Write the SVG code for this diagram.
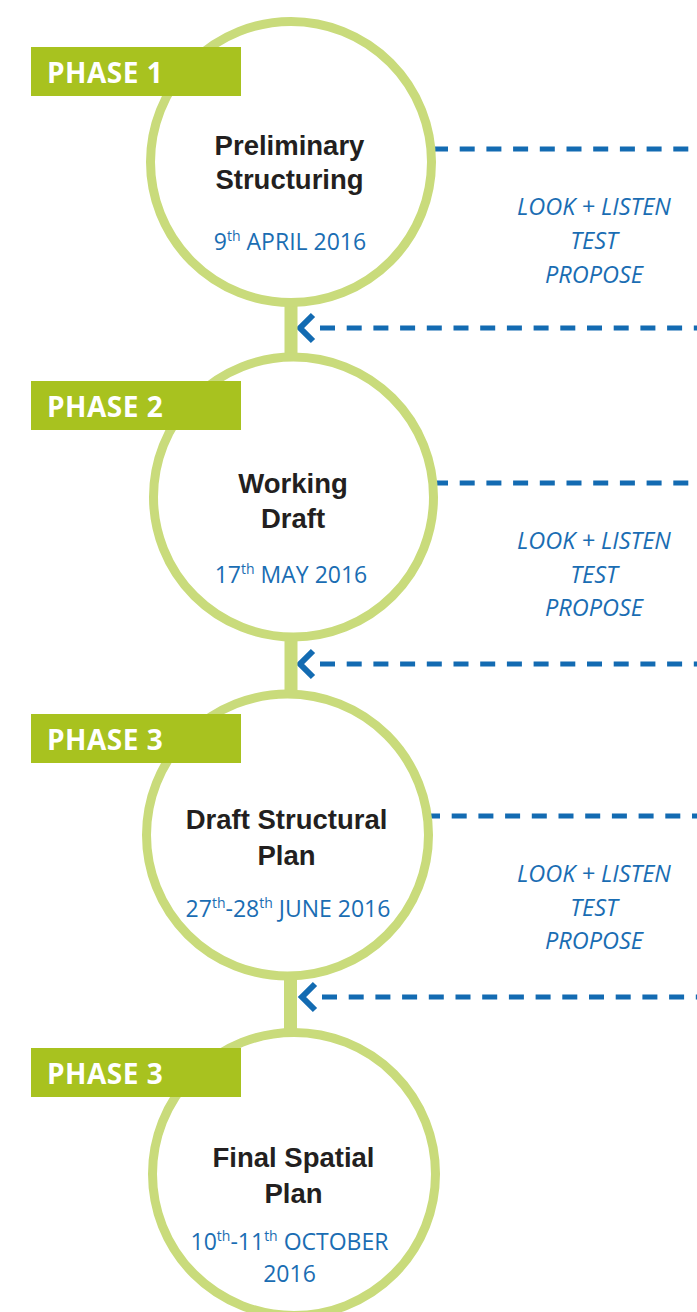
<svg xmlns="http://www.w3.org/2000/svg" width="697" height="1312" viewBox="0 0 697 1312">
<style>
.dash{fill:none;stroke:#136bb2;stroke-width:5;stroke-dasharray:15 11.7}
.chev{fill:none;stroke:#136bb2;stroke-width:6;stroke-linejoin:miter}
.stem{fill:#c9db7b}
.ring{fill:#fff;stroke:#c9db7b;stroke-width:9}
.tag{fill:#a8c21f}
.tagt{font-family:"Open Sans",sans-serif;font-weight:700;font-size:28px;letter-spacing:0.5px;fill:#fff}
.title{font-family:"Liberation Sans",Arial,sans-serif;font-weight:700;font-size:27.5px;fill:#231f20;text-anchor:middle}
.date{font-family:"Open Sans",sans-serif;font-size:23px;fill:#1a6db3;text-anchor:middle}
.sup{font-size:14px}
.act{font-family:"Open Sans",sans-serif;font-style:italic;font-size:23.5px;fill:#1a6db3;text-anchor:middle}
</style>
<rect width="697" height="1312" fill="#fff"/>
<g id="connectors">
<line class="dash" x1="433" y1="149" x2="697" y2="149"/>
<line class="dash" x1="320" y1="328" x2="697" y2="328"/>
<polyline class="chev" points="313,315 300,328 313,341"/>
<line class="dash" x1="433" y1="483" x2="697" y2="483"/>
<line class="dash" x1="320" y1="664" x2="697" y2="664"/>
<polyline class="chev" points="313,651 300,664 313,677"/>
<line class="dash" x1="425" y1="816" x2="697" y2="816"/>
<line class="dash" x1="322" y1="997" x2="697" y2="997"/>
<polyline class="chev" points="315,984 302,997 315,1010"/>
<rect class="stem" x="284.5" y="295" width="13" height="70"/>
<rect class="stem" x="284.5" y="630" width="13" height="70"/>
<rect class="stem" x="284" y="970" width="13" height="70"/>
</g>
<g id="node1">
<circle class="ring" cx="291" cy="162" r="140.5"/>
<rect class="tag" x="31" y="47" width="210" height="49"/>
<text class="tagt" x="47" y="83">PHASE 1</text>
<text class="title" x="289.5" y="155">Preliminary</text>
<text class="title" x="289.5" y="189">Structuring</text>
<text class="date" x="290" y="250">9<tspan class="sup" dy="-9">th</tspan><tspan dy="9"> APRIL 2016</tspan></text>
</g>
<g id="label1">
<text class="act" x="594" y="215">LOOK + LISTEN</text>
<text class="act" x="594" y="249">TEST</text>
<text class="act" x="594" y="283">PROPOSE</text>
</g>
<g id="node2">
<circle class="ring" cx="293.5" cy="497" r="140"/>
<rect class="tag" x="31" y="381" width="210" height="49"/>
<text class="tagt" x="47" y="417">PHASE 2</text>
<text class="title" x="293" y="493">Working</text>
<text class="title" x="293" y="528">Draft</text>
<text class="date" x="291" y="583">17<tspan class="sup" dy="-9">th</tspan><tspan dy="9"> MAY 2016</tspan></text>
</g>
<g id="label2">
<text class="act" x="594" y="549">LOOK + LISTEN</text>
<text class="act" x="594" y="583">TEST</text>
<text class="act" x="594" y="616">PROPOSE</text>
</g>
<g id="node3">
<circle class="ring" cx="287.5" cy="835" r="141"/>
<rect class="tag" x="31" y="714" width="210" height="49"/>
<text class="tagt" x="47" y="750">PHASE 3</text>
<text class="title" x="286.5" y="829">Draft Structural</text>
<text class="title" x="286.5" y="865">Plan</text>
<text class="date" x="288" y="917">27<tspan class="sup" dy="-9">th</tspan><tspan dy="9">-28</tspan><tspan class="sup" dy="-9">th</tspan><tspan dy="9"> JUNE 2016</tspan></text>
</g>
<g id="label3">
<text class="act" x="594" y="882">LOOK + LISTEN</text>
<text class="act" x="594" y="916">TEST</text>
<text class="act" x="594" y="949">PROPOSE</text>
</g>
<g id="node4">
<circle class="ring" cx="294" cy="1174" r="141.5"/>
<rect class="tag" x="31" y="1048" width="210" height="49"/>
<text class="tagt" x="47" y="1084">PHASE 3</text>
<text class="title" x="293.5" y="1167">Final Spatial</text>
<text class="title" x="293.5" y="1203">Plan</text>
<text class="date" x="289.5" y="1250">10<tspan class="sup" dy="-9">th</tspan><tspan dy="9">-11</tspan><tspan class="sup" dy="-9">th</tspan><tspan dy="9"> OCTOBER</tspan></text>
<text class="date" x="289.5" y="1282">2016</text>
</g>
</svg>
